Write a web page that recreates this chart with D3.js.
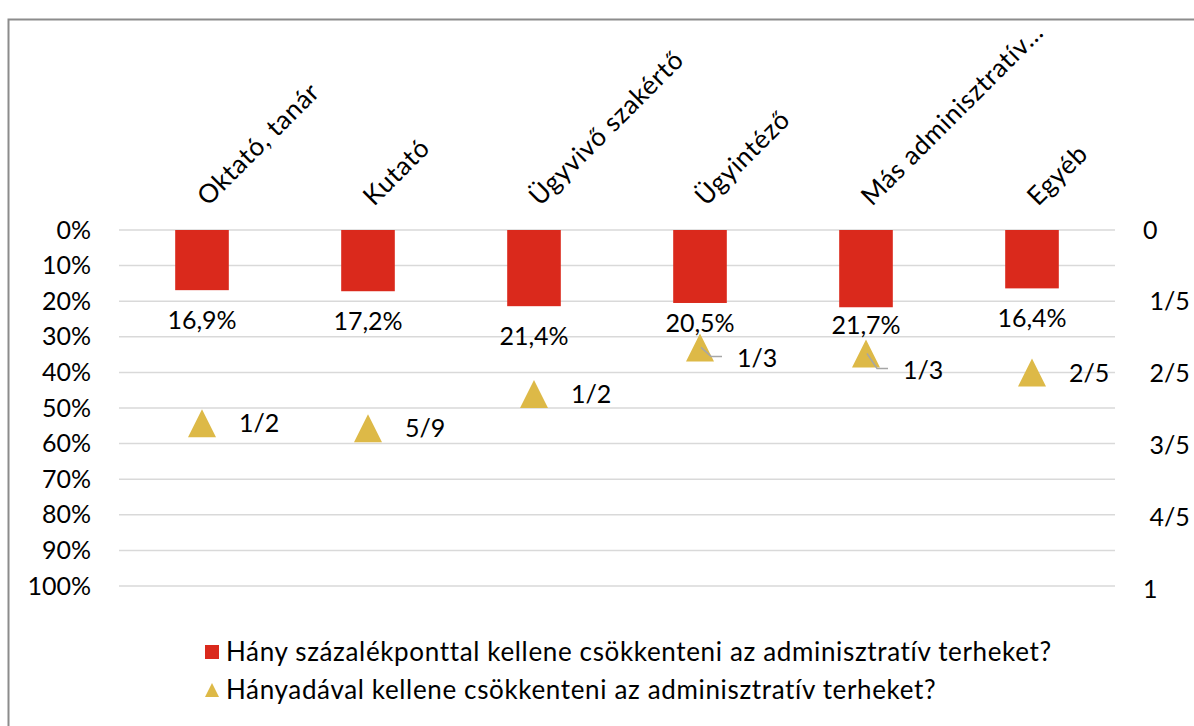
<!DOCTYPE html>
<html>
<head>
<meta charset="utf-8">
<script src="https://cdn.jsdelivr.net/npm/d3@7"></script>
<style>
  html, body { margin: 0; padding: 0; background: #fff; }
  svg { display: block; }
  text { font-family: Lato, "Open Sans", sans-serif; fill: #000; }
  .word { font-size: 26px; letter-spacing: 0.65px; }
</style>
</head>
<body>
<svg id="chart" width="1194" height="726"></svg>
<script>
// ---- data ----
const categories = ["Oktató, tanár", "Kutató", "Ügyvivő szakértő", "Ügyintéző", "Más adminisztratív…", "Egyéb"];
const barValues = [16.9, 17.2, 21.4, 20.5, 21.7, 16.4];
const triValues = [0.538, 0.552, 0.457, 0.327, 0.344, 0.397];
const triLabels = ["1/2", "5/9", "1/2", "1/3", "1/3", "2/5"];
const leftTicks = [0, 10, 20, 30, 40, 50, 60, 70, 80, 90, 100];
const rightTicks = [0, 0.2, 0.4, 0.6, 0.8, 1];
const rightTickLabels = ["0", "\u00A01/5", "\u00A02/5", "\u00A03/5", "\u00A04/5", "1"];
const seriesNames = [
  "Hány százalékponttal kellene csökkenteni az adminisztratív terheket?",
  "Hányadával kellene csökkenteni az adminisztratív terheket?"
];

// ---- style / layout ----
const RED = "#DA291C", GOLD = "#DDB947", GRID = "#D9D9D9";
const FS = 25;
const plot = { left: 119, right: 1115, top: 230, bottom: 586 };
// manual label nudges (as in the original, where some labels were dragged)
const barLabelDy = [0, 0, 0, -9, -12, 0];
const triLabelDy = [0, 0, 0, 10.5, 16.5, 0];
const triLeader = [false, false, false, true, true, false];

const huLocale = d3.formatLocale({ decimal: ",", thousands: "\u00A0", grouping: [3], currency: ["", " Ft"] });
const fmtPct = huLocale.format(".1f");

const svg = d3.select("#chart");

// frame
svg.append("rect")
  .attr("x", 8.5).attr("y", 19.5).attr("width", 1300).attr("height", 900)
  .attr("fill", "none").attr("stroke", "#8C8C8C").attr("stroke-width", 2);

const x = d3.scaleBand().domain(categories).range([plot.left, plot.right]).padding(0);
const yL = d3.scaleLinear().domain([0, 100]).range([plot.top, plot.bottom]);
const yR = d3.scaleLinear().domain([0, 1]).range([plot.top, plot.bottom + 3]);
const barW = x.bandwidth() * 0.323;
const cx = d => x(d) + x.bandwidth() / 2;

// gridlines
svg.append("g").selectAll("line").data(leftTicks).join("line")
  .attr("x1", plot.left).attr("x2", plot.right)
  .attr("y1", d => yL(d)).attr("y2", d => yL(d))
  .attr("stroke", GRID).attr("stroke-width", 1.5);

// left axis
const gL = svg.append("g").attr("transform", `translate(${plot.left},0)`)
  .call(d3.axisLeft(yL).tickValues(leftTicks).tickFormat(d => d + "%").tickSize(0).tickPadding(28));
gL.select(".domain").remove();
gL.selectAll("text").style("font-family", "Lato, sans-serif").style("font-size", FS + "px").attr("fill", "#000");

// right axis
const gR = svg.append("g").attr("transform", `translate(${plot.right},0)`)
  .call(d3.axisRight(yR).tickValues(rightTicks).tickFormat((d, i) => rightTickLabels[i]).tickSize(0).tickPadding(28));
gR.select(".domain").remove();
gR.selectAll("text").style("font-family", "Lato, sans-serif").style("font-size", FS + "px").attr("fill", "#000");

// category labels (top, rotated)
svg.append("g").selectAll("text").data(categories).join("text")
  .attr("class", "word")
  .attr("transform", d => `translate(${cx(d) + 6},${207}) rotate(-45)`)
  .attr("text-anchor", "start")
  .text(d => d);

// bars
svg.append("g").selectAll("rect").data(barValues).join("rect")
  .attr("x", (d, i) => cx(categories[i]) - barW / 2)
  .attr("y", yL(0))
  .attr("width", barW)
  .attr("height", d => yL(d) - yL(0))
  .attr("fill", RED);

// bar labels
svg.append("g").selectAll("text").data(barValues).join("text")
  .attr("x", (d, i) => cx(categories[i]))
  .attr("y", (d, i) => yL(d) + 38.5 + barLabelDy[i])
  .attr("text-anchor", "middle")
  .style("font-size", FS + "px")
  .text(d => fmtPct(d) + "%");

// triangles
const triPath = (w, h) => `M0,${-h / 2}L${w / 2},${h / 2}L${-w / 2},${h / 2}Z`;
svg.append("g").selectAll("path").data(triValues).join("path")
  .attr("transform", (d, i) => `translate(${cx(categories[i])},${yR(d)})`)
  .attr("d", triPath(28, 28))
  .attr("fill", GOLD);

// leader lines
svg.append("g").selectAll("path").data(triValues.map((v, i) => ({ v, i })).filter(o => triLeader[o.i])).join("path")
  .attr("d", o => {
    const x0 = cx(categories[o.i]) + 1, y0 = yR(o.v);
    const ly = y0 + triLabelDy[o.i] - 1.5;
    return `M${x0},${y0}L${x0 + 10},${ly}L${x0 + 21},${ly}`;
  })
  .attr("fill", "none").attr("stroke", "#A6A6A6").attr("stroke-width", 1.5);

// triangle labels
svg.append("g").selectAll("text").data(triValues).join("text")
  .attr("x", (d, i) => cx(categories[i]) + 37)
  .attr("y", (d, i) => yR(d) + triLabelDy[i])
  .attr("dy", "0.36em")
  .style("font-size", FS + "px")
  .text((d, i) => triLabels[i]);

// legend
const lg = svg.append("g");
lg.append("rect").attr("x", 205).attr("y", 645).attr("width", 14).attr("height", 14).attr("fill", RED);
lg.append("text").attr("class", "word").attr("x", 226).attr("y", 652).attr("dy", "0.36em").text(seriesNames[0]);
lg.append("path").attr("transform", "translate(212,690)").attr("d", triPath(14, 14)).attr("fill", GOLD);
lg.append("text").attr("class", "word").attr("x", 226).attr("y", 690).attr("dy", "0.36em").text(seriesNames[1]);
</script>
</body>
</html>
